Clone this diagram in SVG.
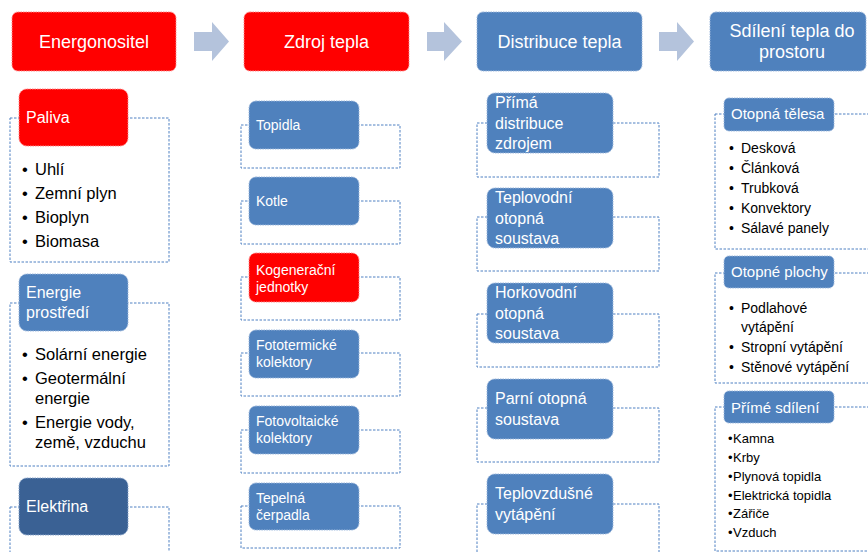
<svg xmlns="http://www.w3.org/2000/svg" width="868" height="552" viewBox="0 0 868 552">
<style>
text{font-family:"Liberation Sans",Arial,sans-serif}
.hd{fill:#ff0000;stroke:#ff8a8a;stroke-width:1;stroke-dasharray:1.5 1}
.hb{fill:#4f81bd;stroke:#9db8dc;stroke-width:1;stroke-dasharray:1.5 1}
.bd{fill:#3a6194;stroke:#8aa6cc;stroke-width:1;stroke-dasharray:1.5 1}
.ct{fill:none;stroke:#4f80c2;stroke-width:1;stroke-dasharray:2.5 1.5}
.ht{fill:#fff;font-size:18px;text-anchor:middle}
.w16{fill:#fff;font-size:16px}
.w14{fill:#fff;font-size:14px}
.w15{fill:#fff;font-size:15px}
.b17{fill:#000;font-size:16.5px}
.b14{fill:#000;font-size:14px}
.b13{fill:#000;font-size:13px}
.arr{fill:#b4c3dc}
</style>
<rect width="868" height="552" fill="#fff"/>

<g id="connectors">
<polygon class="arr" points="194,32 212,32 212,22 229,41.5 212,61 212,51 194,51"/>
<polygon class="arr" points="427,32 444,32 444,22 462,41.5 444,61 444,51 427,51"/>
<polygon class="arr" points="659,32 677,32 677,22 694,41.5 677,61 677,51 659,51"/>
</g>

<g id="h-energonositel"><rect class="hd" x="12" y="12" width="164" height="59" rx="6"/><text class="ht" x="94" y="48">Energonositel</text></g>
<g id="h-zdroj"><rect class="hd" x="244" y="12" width="165" height="59" rx="6"/><text class="ht" x="326.5" y="48">Zdroj tepla</text></g>
<g id="h-distribuce"><rect class="hb" x="477" y="12" width="165" height="59" rx="6"/><text class="ht" x="559.5" y="48">Distribuce tepla</text></g>
<g id="h-sdileni"><rect class="hb" x="710" y="12" width="156" height="59" rx="6"/><text class="ht" x="792" y="37">Sdílení tepla do</text><text class="ht" x="792" y="58">prostoru</text></g>

<!-- Column 1 -->
<g id="paliva">
<rect class="ct" x="10" y="118" width="159" height="144"/>
<rect class="hd" x="19" y="89" width="109" height="57" rx="8"/>
<text class="w16" x="26" y="123">Paliva</text>
<text class="b17"><tspan x="22" y="175">•</tspan><tspan x="35">Uhlí</tspan><tspan x="22" y="199">•</tspan><tspan x="35">Zemní plyn</tspan><tspan x="22" y="223">•</tspan><tspan x="35">Bioplyn</tspan><tspan x="22" y="247">•</tspan><tspan x="35">Biomasa</tspan></text>
</g>
<g id="energie-prostredi">
<rect class="ct" x="10" y="303" width="159" height="163"/>
<rect class="hb" x="19" y="274" width="109" height="57" rx="8"/>
<text class="w16"><tspan x="26" y="298">Energie</tspan><tspan x="26" y="318">prostředí</tspan></text>
<text class="b17"><tspan x="22" y="360">•</tspan><tspan x="35">Solární energie</tspan><tspan x="22" y="384">•</tspan><tspan x="35">Geotermální</tspan><tspan x="35" y="404">energie</tspan><tspan x="22" y="428">•</tspan><tspan x="35">Energie vody,</tspan><tspan x="35" y="448">země, vzduchu</tspan></text>
</g>
<g id="elektrina">
<rect class="ct" x="10" y="507" width="159" height="60"/>
<rect class="bd" x="19" y="478" width="109" height="57" rx="8"/>
<text class="w16" x="26" y="512">Elektřina</text>
</g>

<!-- Column 2 -->
<g id="topidla">
<rect class="ct" x="241" y="125" width="159" height="43"/>
<rect class="hb" x="249" y="101" width="110" height="48" rx="7"/>
<text class="w14" x="256" y="130">Topidla</text>
</g>
<g id="kotle">
<rect class="ct" x="241" y="201" width="159" height="43"/>
<rect class="hb" x="249" y="177" width="110" height="48" rx="7"/>
<text class="w14" x="256" y="206">Kotle</text>
</g>
<g id="kogeneracni">
<rect class="ct" x="241" y="277" width="159" height="43"/>
<rect class="hd" x="249" y="253" width="110" height="49" rx="7"/>
<text class="w14"><tspan x="256" y="275">Kogenerační</tspan><tspan x="256" y="292">jednotky</tspan></text>
</g>
<g id="fototermicke">
<rect class="ct" x="241" y="353" width="159" height="43"/>
<rect class="hb" x="249" y="330" width="110" height="48" rx="7"/>
<text class="w14"><tspan x="256" y="350">Fototermické</tspan><tspan x="256" y="367">kolektory</tspan></text>
</g>
<g id="fotovoltaicke">
<rect class="ct" x="241" y="430" width="159" height="43"/>
<rect class="hb" x="249" y="406" width="110" height="48" rx="7"/>
<text class="w14"><tspan x="256" y="426">Fotovoltaické</tspan><tspan x="256" y="443">kolektory</tspan></text>
</g>
<g id="tepelna-cerpadla">
<rect class="ct" x="241" y="506" width="159" height="42"/>
<rect class="hb" x="249" y="483" width="110" height="47" rx="7"/>
<text class="w14"><tspan x="256" y="503">Tepelná</tspan><tspan x="256" y="520">čerpadla</tspan></text>
</g>

<!-- Column 3 -->
<g id="prima-distribuce">
<rect class="ct" x="477" y="123" width="182" height="54"/>
<rect class="hb" x="487" y="93" width="126" height="60" rx="8"/>
<text class="w16"><tspan x="495" y="108">Přímá</tspan><tspan x="495" y="129">distribuce</tspan><tspan x="495" y="149">zdrojem</tspan></text>
</g>
<g id="teplovodni">
<rect class="ct" x="477" y="217" width="182" height="54"/>
<rect class="hb" x="487" y="188" width="126" height="60" rx="8"/>
<text class="w16"><tspan x="495" y="203">Teplovodní</tspan><tspan x="495" y="224">otopná</tspan><tspan x="495" y="244">soustava</tspan></text>
</g>
<g id="horkovodni">
<rect class="ct" x="477" y="314" width="182" height="53"/>
<rect class="hb" x="487" y="283" width="126" height="60" rx="8"/>
<text class="w16"><tspan x="495" y="298">Horkovodní</tspan><tspan x="495" y="319">otopná</tspan><tspan x="495" y="339">soustava</tspan></text>
</g>
<g id="parni">
<rect class="ct" x="477" y="408" width="182" height="54"/>
<rect class="hb" x="487" y="379" width="126" height="60" rx="8"/>
<text class="w16"><tspan x="495" y="404">Parní otopná</tspan><tspan x="495" y="425">soustava</tspan></text>
</g>
<g id="teplovzdusne">
<rect class="ct" x="477" y="504" width="182" height="60"/>
<rect class="hb" x="487" y="474" width="126" height="60" rx="8"/>
<text class="w16"><tspan x="495" y="499">Teplovzdušné</tspan><tspan x="495" y="520">vytápění</tspan></text>
</g>

<!-- Column 4 -->
<g id="otopna-telesa">
<rect class="ct" x="715" y="114" width="160" height="135"/>
<rect class="hb" x="724" y="98" width="110" height="33" rx="5"/>
<text class="w15" x="731" y="119">Otopná tělesa</text>
<text class="b14"><tspan x="729" y="153">•</tspan><tspan x="741">Desková</tspan><tspan x="729" y="173">•</tspan><tspan x="741">Článková</tspan><tspan x="729" y="193">•</tspan><tspan x="741">Trubková</tspan><tspan x="729" y="213">•</tspan><tspan x="741">Konvektory</tspan><tspan x="729" y="233">•</tspan><tspan x="741">Sálavé panely</tspan></text>
</g>
<g id="otopne-plochy">
<rect class="ct" x="715" y="273" width="160" height="110"/>
<rect class="hb" x="724" y="256" width="110" height="32" rx="5"/>
<text class="w15" x="731" y="277">Otopné plochy</text>
<text class="b14"><tspan x="729" y="313">•</tspan><tspan x="741">Podlahové</tspan><tspan x="741" y="332">vytápění</tspan><tspan x="729" y="352">•</tspan><tspan x="741">Stropní vytápění</tspan><tspan x="729" y="372">•</tspan><tspan x="741">Stěnové vytápění</tspan></text>
</g>
<g id="prime-sdileni">
<rect class="ct" x="715" y="407" width="160" height="144"/>
<rect class="hb" x="724" y="391" width="110" height="32" rx="5"/>
<text class="w15" x="731" y="413">Přímé sdílení</text>
<text class="b13"><tspan x="728" y="443">•</tspan><tspan x="733">Kamna</tspan><tspan x="728" y="462">•</tspan><tspan x="733">Krby</tspan><tspan x="728" y="481">•</tspan><tspan x="733">Plynová topidla</tspan><tspan x="728" y="500">•</tspan><tspan x="733">Elektrická topidla</tspan><tspan x="728" y="518">•</tspan><tspan x="733">Zářiče</tspan><tspan x="728" y="537">•</tspan><tspan x="733">Vzduch</tspan></text>
</g>
</svg>
